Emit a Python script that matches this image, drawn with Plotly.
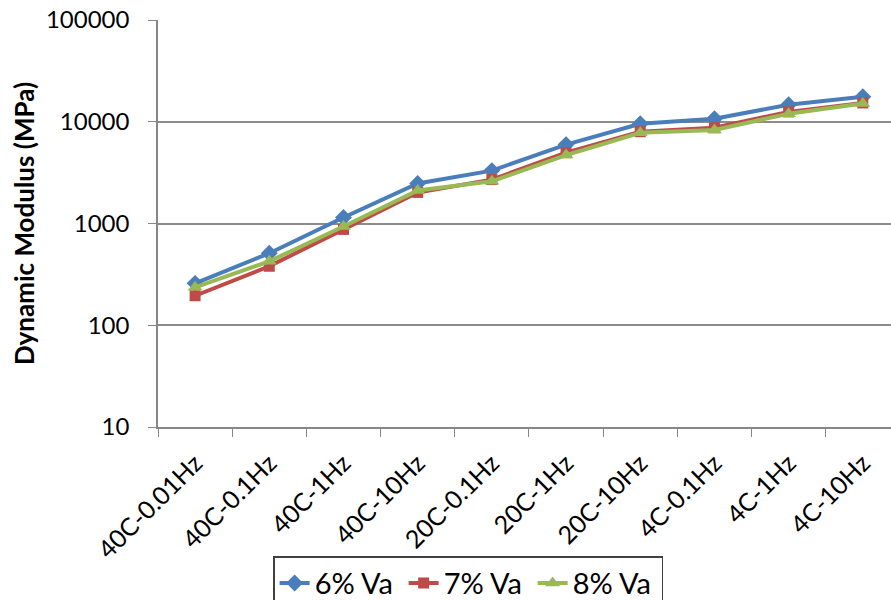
import plotly.graph_objects as go

# Test conditions (temperature - loading frequency)
conditions = ["40C-0.01Hz", "40C-0.1Hz", "40C-1Hz", "40C-10Hz", "20C-0.1Hz",
              "20C-1Hz", "20C-10Hz", "4C-0.1Hz", "4C-1Hz", "4C-10Hz"]

# Dynamic modulus (MPa) for each air-void level
va6 = [258, 510, 1145, 2470, 3310, 5960, 9550, 10700, 14700, 17600]
va7 = [195, 380, 875, 2020, 2700, 4970, 7980, 8730, 12500, 15300]
va8 = [236, 425, 935, 2110, 2600, 4700, 7800, 8300, 12000, 15100]

series = [
    ("6% Va", va6, "#4A7EBB", "diamond", 13),
    ("7% Va", va7, "#BE4B48", "square", 11),
    ("8% Va", va8, "#98B954", "triangle-up", 13),
]

fig = go.Figure()
for name, vals, color, symbol, msize in series:
    fig.add_trace(go.Scatter(
        x=conditions, y=vals, name=name, mode="lines+markers",
        line=dict(color=color, width=4),
        marker=dict(symbol=symbol, size=msize, color=color),
    ))

font_family = "Lato, 'Open Sans', sans-serif"

fig.update_layout(
    width=891, height=600,
    margin=dict(l=158, r=0, t=20, b=173, autoexpand=False),
    paper_bgcolor="white", plot_bgcolor="white",
    font=dict(family=font_family, size=24, color="black"),
    showlegend=True,
    legend=dict(
        orientation="h", x=0.4235, xanchor="center", y=-0.318, yanchor="top",
        bordercolor="#404040", borderwidth=1.2,
        font=dict(size=29, family=font_family),
        tracegroupgap=0, entrywidth=84, entrywidthmode="pixels",
    ),
)

fig.update_xaxes(
    type="category", range=[-0.5, 9.38],
    tickangle=-45, tickson="boundaries",
    ticks="outside", ticklen=8, tickcolor="#868686", tickwidth=1.2,
    showline=True, linecolor="#868686", linewidth=1.5,
    showgrid=False, tickfont=dict(size=25), ticklabelstandoff=10,
)

fig.update_yaxes(
    type="log", range=[1, 5],
    tickvals=[10, 100, 1000, 10000, 100000],
    ticktext=["10", "100", "1000", "10000", "100000"],
    ticks="outside", ticklen=8, tickcolor="#868686", tickwidth=1.2,
    showline=True, linecolor="#868686", linewidth=1.5,
    showgrid=True, gridcolor="#8c8c8c", gridwidth=1.5,
    tickfont=dict(size=24), ticklabelstandoff=14,
    title=dict(text="<b>Dynamic Modulus (MPa)</b>", font=dict(size=26), standoff=4),
)

fig.write_html("out.html")
